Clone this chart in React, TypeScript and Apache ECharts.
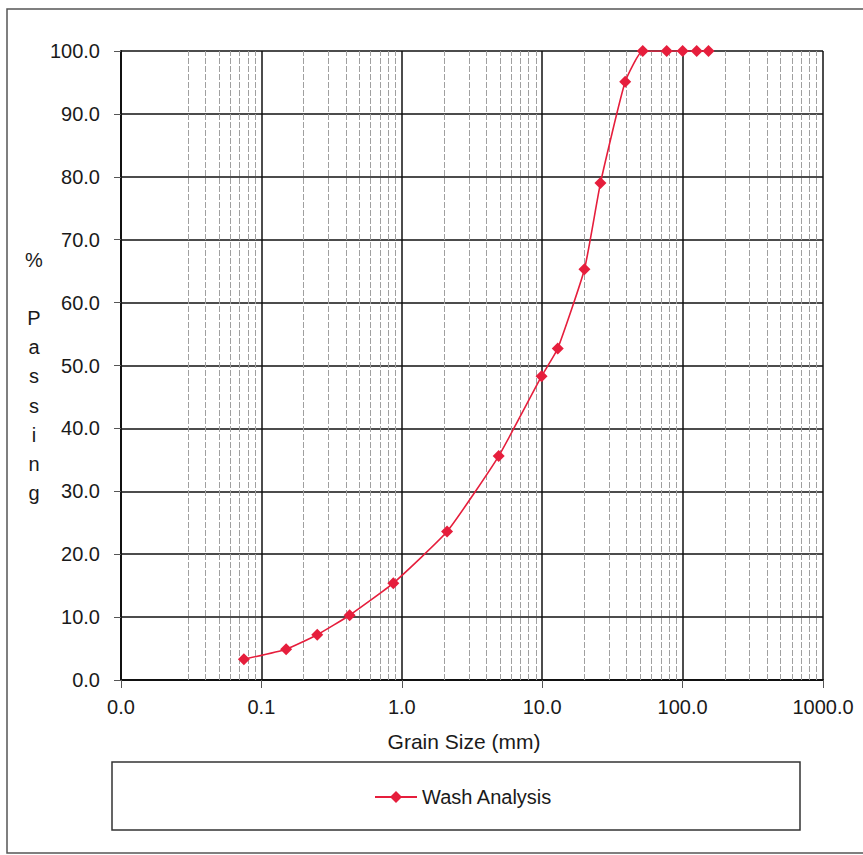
import React, { useEffect, useRef } from "react";
import * as echarts from "echarts";

const grainSizes = [0.075, 0.15, 0.25, 0.425, 0.87, 2.1, 4.9, 9.9, 12.9, 20, 26, 39, 52, 77, 100, 126, 153];
const percentPassing = [3.3, 4.9, 7.2, 10.3, 15.4, 23.6, 35.6, 48.3, 52.7, 65.3, 79.0, 95.1, 100, 100, 100, 100, 100];
const minorGridValues = [
  0.03, 0.04, 0.05, 0.06, 0.07, 0.08, 0.09,
  0.2, 0.3, 0.4, 0.5, 0.6, 0.7, 0.8, 0.9,
  2, 3, 4, 5, 6, 7, 8, 9,
  20, 30, 40, 50, 60, 70, 80, 90,
  200, 300, 400, 500, 600, 700, 800, 900,
];
const seriesName = "Wash Analysis";
const xAxisTitle = "Grain Size (mm)";
const yAxisTitleLetters = ["%", "", "P", "a", "s", "s", "i", "n", "g"];

const FONT = "'Liberation Sans', Arial, Helvetica, sans-serif";
const RED = "#e61e3c";

export default function App() {
  const ref = useRef<HTMLDivElement>(null);
  useEffect(() => {
    if (!ref.current) return;
    const chart = echarts.init(ref.current, undefined, { renderer: "svg" });
    const data = grainSizes.map((g, i) => [g, percentPassing[i]]);
    chart.setOption({
      animation: false,
      backgroundColor: "#ffffff",
      textStyle: { fontFamily: FONT },
      grid: { left: 121, right: 40, top: 51, bottom: 175, containLabel: false },
      xAxis: {
        type: "log",
        logBase: 10,
        min: 0.01,
        max: 1000,
        axisLine: { show: true, lineStyle: { color: "#111", width: 2 } },
        axisTick: { show: true, inside: false, length: 8, lineStyle: { color: "#555", width: 1 } },
        axisLabel: {
          margin: 17,
          color: "#1a1a1a",
          fontSize: 20,
          fontFamily: FONT,
          formatter: (v: number) => v.toFixed(1),
        },
        splitLine: { show: true, lineStyle: { color: "#111", width: 1.5 } },
      },
      yAxis: {
        type: "value",
        min: 0,
        max: 100,
        interval: 10,
        axisLine: { show: true, lineStyle: { color: "#111", width: 2 } },
        axisTick: { show: true, inside: false, length: 7, lineStyle: { color: "#555", width: 1 } },
        axisLabel: {
          margin: 21,
          color: "#1a1a1a",
          fontSize: 20,
          fontFamily: FONT,
          formatter: (v: number) => v.toFixed(1),
        },
        splitLine: { show: true, lineStyle: { color: "#111", width: 1.5 } },
      },
      legend: {
        show: true,
        left: 369,
        top: 782,
        itemWidth: 42,
        itemHeight: 15,
        itemGap: 4,
        textStyle: { fontSize: 20, color: "#1a1a1a", fontFamily: FONT },
        data: [seriesName],
      },
      series: [
        {
          name: "minor-grid",
          type: "line",
          data: [],
          silent: true,
          markLine: {
            silent: true,
            symbol: ["none", "none"],
            label: { show: false },
            lineStyle: { color: "#a0a0a0", width: 1, type: [6, 2] },
            emphasis: { disabled: true },
            data: minorGridValues.map((v) => ({ xAxis: v })),
          },
        },
        {
          name: seriesName,
          type: "line",
          data,
          smooth: 0.15,
          symbol: "diamond",
          symbolSize: 12,
          lineStyle: { color: RED, width: 1.6 },
          itemStyle: { color: RED },
          z: 5,
        },
      ],
      graphic: [
        {
          type: "rect",
          shape: { x: 7, y: 9, width: 900, height: 844 },
          style: { fill: "none", stroke: "#555", lineWidth: 1.5 },
          silent: true,
        },
        {
          type: "rect",
          shape: { x: 112, y: 762, width: 688, height: 68 },
          style: { fill: "none", stroke: "#333", lineWidth: 1.5 },
          silent: true,
        },
        {
          type: "text",
          x: 464,
          y: 741,
          style: {
            text: xAxisTitle,
            fontSize: 21,
            fontFamily: FONT,
            fill: "#1a1a1a",
            align: "center",
            verticalAlign: "middle",
          },
        },
        {
          type: "text",
          x: 34,
          y: 245,
          style: {
            text: yAxisTitleLetters.join("\n"),
            fontSize: 20,
            lineHeight: 29.2,
            fontFamily: FONT,
            fill: "#1a1a1a",
            align: "center",
            verticalAlign: "top",
          },
        },
      ],
    });
    return () => chart.dispose();
  }, []);
  return (
    <div
      ref={ref}
      style={{ position: "fixed", left: 0, top: 0, width: 863, height: 855 }}
    />
  );
}
